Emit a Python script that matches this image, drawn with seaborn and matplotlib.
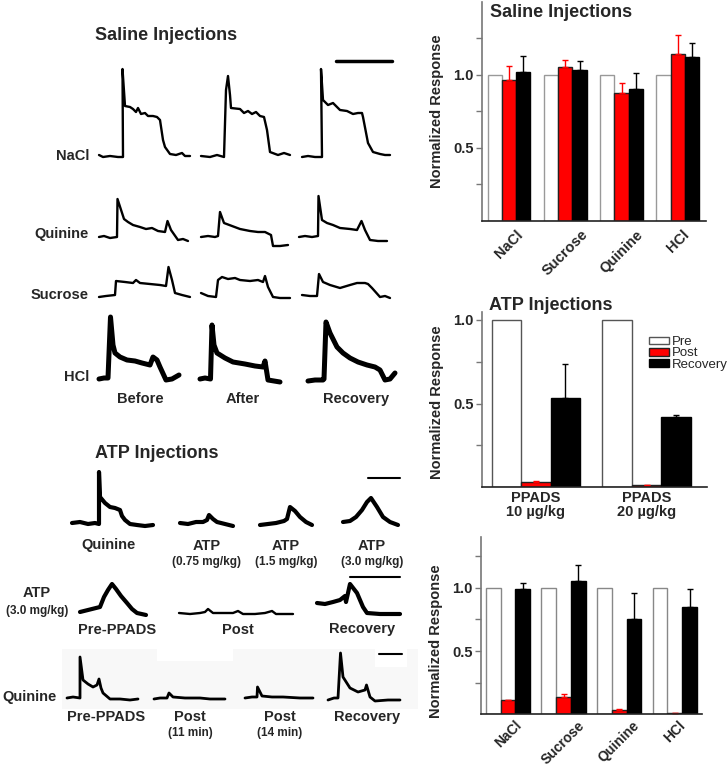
import numpy as np
import pandas as pd
import matplotlib
matplotlib.use('Agg')
import matplotlib.pyplot as plt
import seaborn as sns
from matplotlib.patches import Patch, Rectangle
from matplotlib.ticker import FixedLocator

# ---------------- bar data (normalized responses) ----------------
conds = ['Pre', 'Post', 'Recovery']

saline_tastes = ['NaCl', 'Sucrose', 'Quinine', 'HCl']
saline_pre = [1.0, 1.0, 1.0, 1.0]
saline_post = [0.964, 1.053, 0.873, 1.142]
saline_post_err = [0.098, 0.047, 0.070, 0.132]
saline_rec = [1.023, 1.032, 0.902, 1.121]
saline_rec_err = [0.107, 0.060, 0.109, 0.101]

atp_doses = ['PPADS\n10 µg/kg', 'PPADS\n20 µg/kg']
atp_pre = [1.0, 1.0]
atp_post = [0.032, 0.012]
atp_post_err = [0.004, 0.002]
atp_rec = [0.535, 0.420]
atp_rec_err = [0.202, 0.010]

ppads_tastes = ['NaCl', 'Sucrose', 'Quinine', 'HCl']
ppads_pre = [1.0, 1.0, 1.0, 1.0]
ppads_post = [0.110, 0.139, 0.034, 0.008]
ppads_post_err = [0.005, 0.021, 0.006, 0.002]
ppads_rec = [0.990, 1.050, 0.750, 0.850]
ppads_rec_err = [0.045, 0.130, 0.208, 0.137]

# ---------------- nerve recording traces ----------------
nacl_before = [(99, 155), (103, 157), (110, 156), (118, 157), (123, 157), (122.5, 69), (125, 106), (130, 107),
               (133, 109), (136, 112), (138, 108), (141, 114), (145, 113), (148, 116), (153, 116), (157, 117),
               (160, 120), (163, 140), (165, 147), (170, 154), (176, 155), (182, 153), (185, 156), (190, 156)]
nacl_after = [(201, 156), (210, 157), (217, 155), (224, 157), (226, 90), (228, 76), (230, 95), (231, 108),
              (240, 109), (244, 113), (248, 111), (252, 114), (256, 112), (260, 116), (264, 117), (267, 130),
              (270, 152), (278, 155), (284, 153), (290, 155)]
nacl_recovery = [(302, 157), (308, 156), (315, 157), (322, 157), (321, 69), (323, 100), (328, 105), (333, 103),
                 (340, 110), (347, 111), (353, 114), (358, 113), (362, 113), (363, 117), (368, 143), (373, 152),
                 (380, 154), (385, 155), (390, 155)]

quinine_before = [(99, 237), (104, 236), (110, 238), (117, 237), (117.5, 199), (124, 219), (128, 222), (133, 225),
                  (140, 227), (146, 229), (152, 228), (158, 231), (165, 232), (167.5, 221), (171, 230), (178, 240),
                  (183, 239), (188, 241)]
quinine_after = [(201, 237), (208, 236), (215, 237), (218, 236), (220, 212), (224, 223), (232, 226), (240, 229),
                 (250, 231), (258, 232), (265, 232), (271, 235), (273, 246), (280, 246), (288, 245)]
quinine_recovery = [(299, 237), (305, 236), (312, 237), (318, 236), (318.5, 196), (322, 220), (327, 223),
                    (333, 225), (340, 228), (350, 229), (357, 230), (361.5, 221), (365, 230), (370, 240),
                    (378, 241), (387, 241)]

sucrose_before = [(99, 297), (106, 296), (115, 295), (116, 281), (125, 282), (133, 283), (136, 280), (140, 283),
                  (150, 284), (160, 285), (166, 286), (168.5, 267), (172, 280), (175, 293), (182, 295), (190, 297)]
sucrose_after = [(201, 293), (208, 296), (216, 297), (218, 280), (222, 277), (228, 279), (235, 278), (240, 280),
                 (250, 281), (258, 280), (263, 282), (265, 276), (268, 287), (273, 297), (280, 298), (290, 298)]
sucrose_recovery = [(302, 295), (310, 296), (317, 296), (319, 274), (323, 282), (330, 285), (340, 288),
                    (350, 285), (357, 283), (365, 283), (368, 284), (372, 288), (380, 297), (385, 296), (390, 298)]

hcl_before = [(99, 379), (104, 378), (108, 378), (110.5, 317), (113, 345), (115, 353), (120, 357), (127, 360),
              (135, 361), (142, 363), (150, 365), (153, 357), (157, 360), (160, 367), (166, 380), (172, 379),
              (179, 375)]
hcl_after = [(200, 379), (205, 378), (210.5, 379), (212, 325), (214, 345), (217, 353), (225, 358), (233, 362),
             (245, 364), (255, 366), (263, 367), (265, 361), (268, 380), (274, 381), (280, 382)]
hcl_recovery = [(308, 381), (315, 380), (323, 380), (324, 379), (326, 322), (330, 333), (337, 347), (343, 353),
                (350, 358), (358, 362), (367, 365), (375, 367), (380, 370), (385, 380), (390, 379), (395, 373)]

atp_quinine = [(72, 523), (80, 522), (88, 524), (95, 523), (99, 524), (99, 472), (100, 497), (105, 503),
               (110, 507), (115, 508), (120, 510), (122, 516), (125, 520), (130, 524), (137, 525), (145, 526),
               (153, 525)]
atp_low = [(180, 523), (188, 524), (196, 522), (203, 522), (207, 520), (209, 515), (213, 519), (217, 522),
           (225, 524), (233, 526)]
atp_mid = [(260, 525), (268, 524), (276, 523), (284, 521), (287, 519), (290, 507), (295, 511), (300, 517),
           (306, 522), (312, 525)]
atp_high = [(343, 522), (350, 521), (356, 517), (362, 510), (367, 502), (371, 498), (377, 507), (383, 517),
            (390, 522), (398, 525)]

atp_pre_ppads = [(80, 612), (88, 610), (96, 608), (100, 607), (104, 597), (108, 590), (112, 584), (116, 589),
                 (121, 596), (127, 603), (132, 609), (137, 613), (146, 615)]
atp_post_ppads = [(179, 613), (190, 614), (200, 613), (205, 612), (208, 609), (213, 613), (225, 613), (233, 613),
                  (238, 611), (243, 614), (255, 614), (265, 613), (272, 611), (276, 614), (285, 614), (293, 614)]
atp_recovery = [(317, 603), (325, 604), (333, 602), (340, 600), (345, 596), (346, 602), (350, 584), (357, 593),
                (363, 607), (367, 613), (380, 614), (400, 614)]

q_pre_ppads = [(67, 698), (73, 697), (80, 698), (80, 657), (83, 680), (88, 684), (93, 687), (97, 685), (99, 679),
               (101, 688), (103, 693), (110, 699), (120, 699), (130, 700), (138, 699)]
q_post_11 = [(154, 699), (160, 698), (167, 698), (169, 693), (173, 697), (185, 698), (200, 698), (210, 699),
             (225, 699)]
q_post_14 = [(245, 698), (252, 697), (257, 697), (257.5, 687), (262, 696), (272, 697), (283, 697), (300, 698),
             (313, 698)]
q_recovery = [(328, 700), (334, 698), (338, 698), (340.5, 653), (343, 677), (350, 688), (358, 692), (365, 690),
              (366.5, 685), (370, 697), (375, 701), (388, 700), (400, 700)]

sns.set_theme(style='white')
plt.rcParams['font.family'] = ['Liberation Sans', 'DejaVu Sans']
plt.rcParams['font.weight'] = 'bold'

fig = plt.figure(figsize=(7.28, 7.70), dpi=100)

# left side: traces in a pixel-like frame
ax0 = fig.add_axes([0, 0, 1, 1])
ax0.set_xlim(0, 728)
ax0.set_ylim(770, 0)
ax0.axis('off')

ax0.add_patch(Rectangle((62, 649), 356, 60, color='#f8f8f8', lw=0, zorder=0))
ax0.add_patch(Rectangle((157, 648), 76, 13, color='white', lw=0, zorder=0))
ax0.add_patch(Rectangle((375, 648), 32, 19, color='white', lw=0, zorder=0))

thin = [nacl_before, nacl_after, nacl_recovery, quinine_before, quinine_after, quinine_recovery,
        sucrose_before, sucrose_after, sucrose_recovery, atp_post_ppads]
thick = [hcl_before, hcl_after, hcl_recovery]
noisy = [atp_quinine, atp_low, atp_mid, atp_high, atp_pre_ppads, atp_recovery]
mid = [q_pre_ppads, q_post_11, q_post_14, q_recovery]

for group, lw in [(thin, 1.7), (thick, 3.6), (noisy, 3.0), (mid, 2.0)]:
    for tr in group:
        xs, ys = zip(*tr)
        ax0.plot(xs, ys, color='black', lw=lw, solid_joinstyle='round', solid_capstyle='round')

# scale bars
ax0.plot([336, 392], [61, 61], color='black', lw=2.5)
ax0.plot([368, 400], [477.5, 477.5], color='black', lw=1.5)
ax0.plot([350, 400], [576.5, 576.5], color='black', lw=1.5)
ax0.plot([379, 402], [653.5, 653.5], color='black', lw=1.5)

tkw = dict(fontsize=10.5, fontweight='bold', va='center')
ax0.text(166, 36, 'Saline Injections', fontsize=13, fontweight='bold', ha='center', va='center')
for lab, y in zip(['NaCl', 'Quinine', 'Sucrose', 'HCl'], [156, 234, 295, 377]):
    ax0.text(89, y, lab, ha='right', **tkw)
for lab, x in zip(['Before', 'After', 'Recovery'], [140, 243, 356]):
    ax0.text(x, 399, lab, ha='center', **tkw)

ax0.text(157, 453, 'ATP Injections', fontsize=13, fontweight='bold', ha='center', va='center')
ax0.text(109, 545, 'Quinine', ha='center', **tkw)
for x, sub in zip([207, 286, 372], ['(0.75 mg/kg)', '(1.5 mg/kg)', '(3.0 mg/kg)']):
    ax0.text(x, 546, 'ATP', ha='center', **tkw)
    ax0.text(x, 561.5, sub, ha='center', va='center', fontsize=8.5, fontweight='bold')
ax0.text(37, 593, 'ATP', ha='center', **tkw)
ax0.text(37, 611, '(3.0 mg/kg)', ha='center', va='center', fontsize=8.5, fontweight='bold')
for lab, x in zip(['Pre-PPADS', 'Post', 'Recovery'], [117, 238, 362]):
    ax0.text(x, 629.5, lab, ha='center', **tkw)
ax0.text(57, 697, 'Quinine', ha='right', **tkw)
for lab, x in zip(['Pre-PPADS', 'Post', 'Post', 'Recovery'], [106, 190, 280, 367]):
    ax0.text(x, 717, lab, ha='center', **tkw)
for sub, x in zip(['(11 min)', '(14 min)'], [190, 280]):
    ax0.text(x, 733, sub, ha='center', va='center', fontsize=8.5, fontweight='bold')


def bar_panel(ax, cats, pre, post, post_err, rec, rec_err, width, pre_edge, ylim, minor):
    n = len(cats)
    df = pd.DataFrame({'cat': cats * 3,
                       'cond': [c for c in conds for _ in range(n)],
                       'resp': pre + post + rec})
    sns.barplot(data=df, x='cat', y='resp', hue='cond', hue_order=conds,
                palette={'Pre': 'white', 'Post': 'red', 'Recovery': 'black'},
                saturation=1, width=width, gap=0, errorbar=None, legend=False, ax=ax)
    for cont, ec in zip(ax.containers, [pre_edge, '#222222', 'black']):
        for b in cont:
            b.set_edgecolor(ec)
            b.set_linewidth(1.0)
    for cont, err, col in zip(ax.containers[1:], [post_err, rec_err], ['red', 'black']):
        xs = [b.get_x() + b.get_width() / 2 for b in cont]
        hs = [b.get_height() for b in cont]
        ax.errorbar(xs, hs, yerr=[np.zeros(n), err], fmt='none', ecolor=col,
                    elinewidth=1, capsize=2, capthick=1)
    ax.set_facecolor('none')
    ax.set_ylim(*ylim)
    ax.set_yticks([0.5, 1.0])
    ax.set_yticklabels(['0.5', '1.0'], fontsize=10.5, fontweight='bold')
    ax.yaxis.set_minor_locator(FixedLocator(minor))
    ax.tick_params(axis='y', which='both', direction='out', length=4, width=1,
                   color='#777777', left=True, pad=2)
    ax.tick_params(axis='x', length=0)
    sns.despine(ax=ax)
    ax.spines['left'].set_color('#777777')
    ax.spines['left'].set_linewidth(1.2)
    ax.spines['bottom'].set_color('#222222')
    ax.spines['bottom'].set_linewidth(1.2)
    ax.set_xlabel('')
    ax.set_ylabel('Normalized Response', fontsize=10.5, fontweight='bold')


# Saline panel
ax1 = fig.add_axes([0.6621, 0.7134, 0.3077, 0.2840])
bar_panel(ax1, saline_tastes, saline_pre, saline_post, saline_post_err, saline_rec, saline_rec_err,
          0.76, '#999999', (0, 1.5), [0.25, 0.75, 1.25])
ax1.set_xlim(-0.48, 3.5)
ax1.set_xticks(range(4))
ax1.set_xticklabels(saline_tastes, rotation=45, ha='center', fontsize=10.5, fontweight='bold')
ax1.tick_params(axis='x', pad=5)
ax1.yaxis.set_label_coords(-0.17, 0.5)
ax1.text(0.036, 0.95, 'Saline Injections', transform=ax1.transAxes, fontsize=13,
         fontweight='bold', ha='left', va='center')

# ATP panel
ax2 = fig.add_axes([0.6625, 0.3671, 0.3082, 0.2283])
bar_panel(ax2, atp_doses, atp_pre, atp_post, atp_post_err, atp_rec, atp_rec_err,
          0.8, '#555555', (0, 1.05), [0.25, 0.75])
ax2.set_xlim(-0.485, 1.544)
ax2.set_xticks(range(2))
ax2.set_xticklabels(atp_doses, fontsize=10.5, fontweight='bold', linespacing=1.0)
ax2.tick_params(axis='x', pad=3)
ax2.yaxis.set_label_coords(-0.17, 0.485)
ax2.text(0.031, 1.037, 'ATP Injections', transform=ax2.transAxes, fontsize=13,
         fontweight='bold', ha='left', va='center', clip_on=False)
handles = [Patch(facecolor='white', edgecolor='#555555', lw=1),
           Patch(facecolor='red', edgecolor='#222222', lw=1),
           Patch(facecolor='black', edgecolor='black', lw=1)]
ax2.legend(handles, conds, loc='upper left', bbox_to_anchor=(0.745, 0.86), frameon=False,
           prop={'size': 9.5, 'weight': 'normal'}, handlelength=1.5, handleheight=0.5,
           handletextpad=0.2, labelspacing=-0.05, borderpad=0, borderaxespad=0)

# PPADS taste panel
ax3 = fig.add_axes([0.6607, 0.0723, 0.3040, 0.2301])
bar_panel(ax3, ppads_tastes, ppads_pre, ppads_post, ppads_post_err, ppads_rec, ppads_rec_err,
          0.8, '#888888', (0, 1.4), [0.25, 0.75, 1.25])
ax3.set_xlim(-0.486, 3.495)
ax3.set_xticks(range(4))
ax3.set_xticklabels(ppads_tastes, rotation=45, ha='center', fontsize=10, fontweight='bold')
ax3.tick_params(axis='x', pad=3)
ax3.yaxis.set_label_coords(-0.17, 0.41)

fig.savefig('out.png', dpi=100)
